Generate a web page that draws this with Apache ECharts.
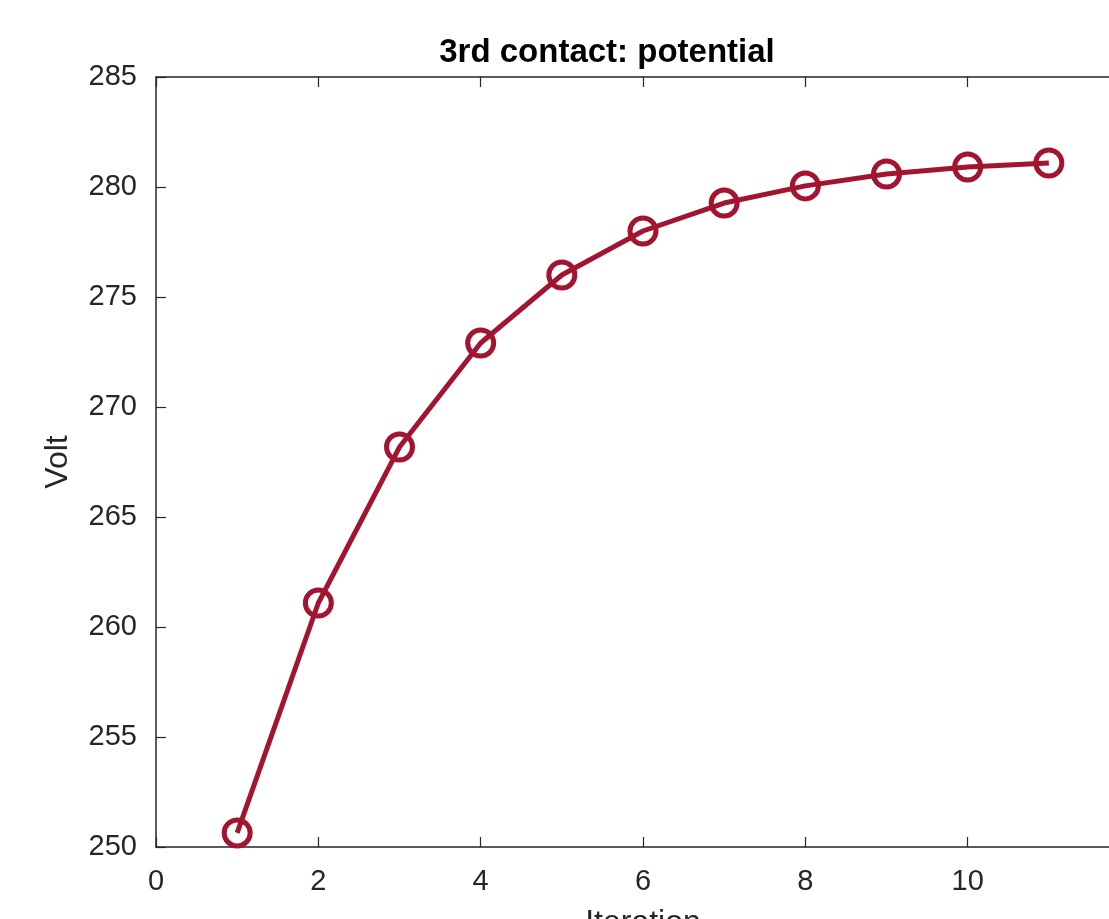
<!DOCTYPE html>
<html>
<head>
<meta charset="utf-8">
<script src="https://cdn.jsdelivr.net/npm/echarts@6/dist/echarts.min.js"></script>
<style>
  html, body { margin: 0; padding: 0; background: #fff; }
  #chart { width: 1109px; height: 919px; }
</style>
</head>
<body>
<div id="chart"></div>
<script>
// iterations and potential (Volt) of the 3rd contact
const iterations = [1, 2, 3, 4, 5, 6, 7, 8, 9, 10, 11]
const potential = [250.64, 261.09, 268.18, 272.91, 276.0, 278.0, 279.27, 280.05, 280.59, 280.91, 281.09]
const xTicks = [0, 2, 4, 6, 8, 10, 12]
const yTicks = [250, 255, 260, 265, 270, 275, 280, 285]

const lineColor = '#A2142F'
const textColor = '#262626'
const font = 'Liberation Sans'

const chart = echarts.init(document.getElementById('chart'), null, { renderer: 'canvas' })

const points = iterations.map((x, i) => [x, potential[i]])

const option = {
  animation: false,
  textStyle: { fontFamily: font },
  title: {
    text: '3rd contact: potential',
    left: 602,
    top: 31,
    textAlign: 'center',
    textStyle: { fontFamily: font, fontSize: 33, fontWeight: 'bold', color: '#000' }
  },
  grid: {
    left: 156,
    top: 77,
    right: -21,
    bottom: 72,
    containLabel: false,
    outerBoundsMode: 'none'
  },
  xAxis: [{
    type: 'value',
    min: xTicks[0],
    max: xTicks[xTicks.length - 1],
    interval: 2,
    name: 'Iteration',
    nameLocation: 'middle',
    nameGap: 60,
    nameTextStyle: { fontFamily: font, fontSize: 32, color: textColor },
    axisLine: { onZero: false, lineStyle: { color: textColor, width: 1.5 } },
    axisTick: { inside: true, length: 10, lineStyle: { color: textColor, width: 1.2 } },
    axisLabel: { margin: 20, fontFamily: font, fontSize: 29, color: textColor },
    splitLine: { show: false }
  }, {
    type: 'value',
    position: 'top',
    min: xTicks[0],
    max: xTicks[xTicks.length - 1],
    interval: 2,
    axisLine: { onZero: false, lineStyle: { color: textColor, width: 1.5 } },
    axisTick: { inside: true, length: 10, lineStyle: { color: textColor, width: 1.2 } },
    axisLabel: { show: false },
    splitLine: { show: false }
  }],
  yAxis: {
    type: 'value',
    min: yTicks[0],
    max: yTicks[yTicks.length - 1],
    interval: 5,
    name: 'Volt',
    nameLocation: 'middle',
    nameGap: 82,
    nameTextStyle: { fontFamily: font, fontSize: 32, color: textColor },
    axisLine: { show: true, onZero: false, lineStyle: { color: textColor, width: 1.5 } },
    axisTick: { show: true, inside: true, length: 10, lineStyle: { color: textColor, width: 1.2 } },
    axisLabel: { margin: 19, fontFamily: font, fontSize: 29, color: textColor },
    splitLine: { show: false }
  },
  series: [{
    name: 'potential',
    type: 'line',
    data: points,
    symbol: 'circle',
    symbolSize: 26,
    clip: false,
    lineStyle: { color: lineColor, width: 5 },
    itemStyle: {
      color: 'rgba(0,0,0,0)',
      borderColor: lineColor,
      borderWidth: 5
    },
    z: 3
  }]
}

chart.setOption(option)
</script>
</body>
</html>
